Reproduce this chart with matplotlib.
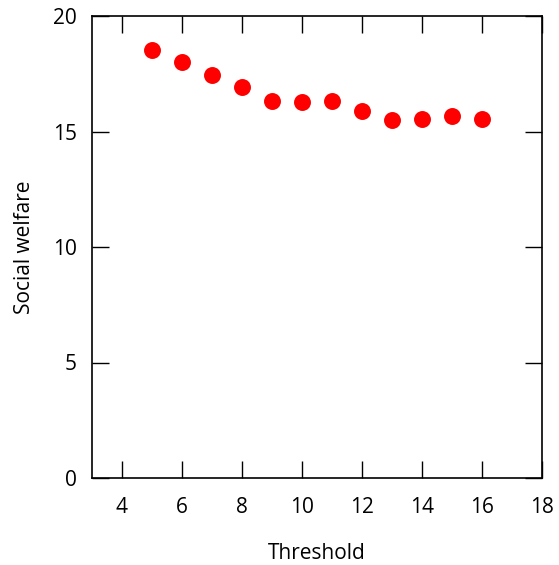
import matplotlib.pyplot as plt

plt.rcParams['font.family'] = ['Open Sans', 'DejaVu Sans']

threshold = [5, 6, 7, 8, 9, 10, 11, 12, 13, 14, 15, 16]
welfare = [18.52, 18.0, 17.45, 16.93, 16.32, 16.28, 16.33, 15.88, 15.5, 15.54, 15.65, 15.54]
x_ticks = [4, 6, 8, 10, 12, 14, 16, 18]
y_ticks = [0, 5, 10, 15, 20]

fig = plt.figure(figsize=(5.59, 5.65), dpi=100)
ax = fig.add_axes([92 / 559, 1 - 478 / 565, 450 / 559, 462 / 565])

ax.plot(threshold, welfare, 'o', color='#ff0000', markersize=12.2, markeredgewidth=0)

ax.set_xlim(3, 18)
ax.set_ylim(0, 20)
ax.set_xticks(x_ticks)
ax.set_yticks(y_ticks)
ax.tick_params(direction='in', length=12, width=1, top=True, right=True,
               labelsize=15, colors='black')
ax.tick_params(axis='x', pad=14)
ax.tick_params(axis='y', pad=11)
for s in ax.spines.values():
    s.set_linewidth(1.2)

ax.set_xlabel('Threshold', fontsize=15, labelpad=18)
ax.set_ylabel('Social welfare', fontsize=15, labelpad=13)

fig.savefig('out.png', dpi=100)
